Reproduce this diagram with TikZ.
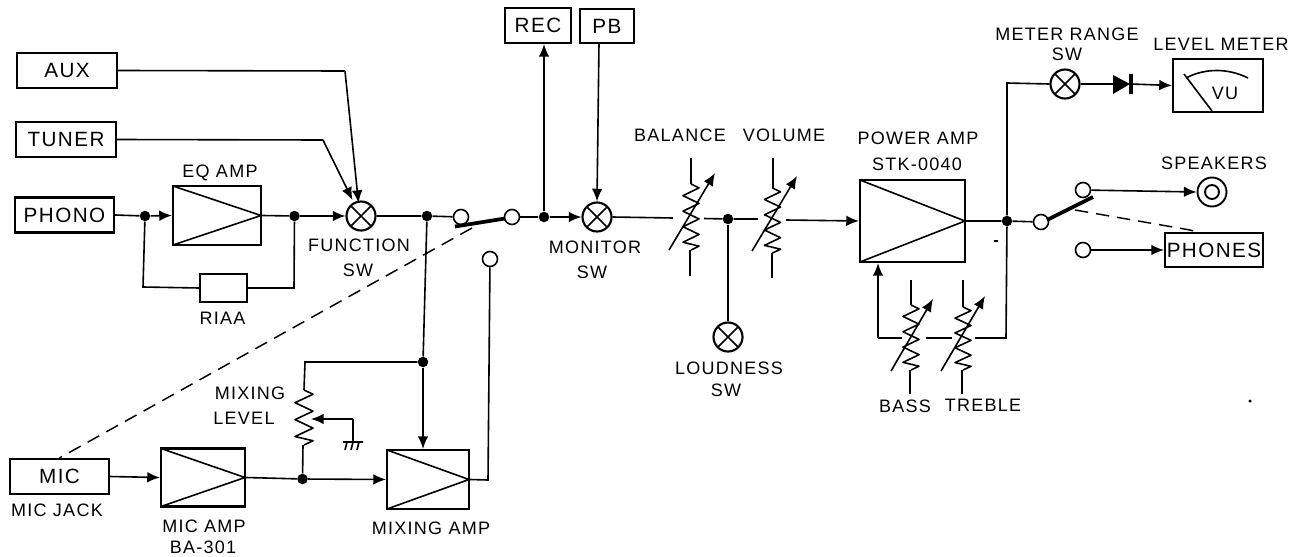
\documentclass[tikz,border=0pt]{standalone}
\usepackage{fontspec}
\setmainfont[LetterSpace=7]{Liberation Sans}
\usetikzlibrary{arrows.meta,calc}
\tikzset{
  wh/.style 2 args={minimum width=#1*0.75pt,minimum height=#2*0.75pt},
  blk/.style={draw,line width=1.6pt,inner sep=0pt,font=\fontsize{15.5pt}{16pt}\selectfont,text height=11.1pt,text depth=0pt},
  amp/.style={draw,line width=1.6pt,inner sep=0pt,
    path picture={\draw[line width=1.2pt] (path picture bounding box.north west)--(path picture bounding box.east)--(path picture bounding box.south west);}},
  lab/.style={inner sep=0pt,font=\fontsize{13.5pt}{14pt}\selectfont,text height=9.7pt,text depth=0pt},
  sumsw/.style={draw,circle,line width=1.6pt,inner sep=0pt,minimum size=29*0.75pt,fill=white,
    path picture={\draw[line width=1.2pt] (path picture bounding box.north west)--(path picture bounding box.south east) (path picture bounding box.north east)--(path picture bounding box.south west);}},
  term/.style={draw,circle,line width=1.2pt,inner sep=0pt,minimum size=15*0.75pt,fill=white},
  junc/.style={circle,fill=black,inner sep=0pt,minimum size=10.5*0.75pt},
  wire/.style={line width=1.2pt,line join=miter},
  conn/.style={wire,-{Latex[length=9.5pt,width=8pt]}},
  blade/.style={line width=2.8pt},
  link/.style={line width=1.1pt,dash pattern=on 10pt off 6pt},
}
% zigzag resistor: centre x, top y, bottom y, half width, number of left points
\newcommand{\zigres}[5]{%
  \pgfmathsetmacro{\zs}{(#3-#2)/(2*#5+0.5)}%
  \draw[wire,line join=round] (#1,#2)
    \foreach \zi in {1,...,#5} { -- (#1+#4,{#2+(2*\zi-1.5)*\zs}) -- (#1-#4,{#2+(2*\zi-0.5)*\zs}) }
    -- (#1+#4,{#3-0.5*\zs}) -- (#1,#3);}
\begin{document}
\begin{tikzpicture}[x=0.75pt,y=-0.75pt]
\useasboundingbox (0,0) rectangle (1307,557);
% source blocks
\node[blk,wh={100}{35}] (aux) at (67,70.5) {AUX};
\node[blk,wh={100}{35}] (tuner) at (66,139.5) {TUNER};
\node[blk,wh={99}{35}] (phono) at (64.5,215) {PHONO};
\node[blk,wh={99}{35}] (mic) at (59.5,476.5) {MIC};
\node[blk,wh={66}{35}] (rec) at (538,25.5) {REC};
\node[blk,wh={54}{34}] (pb) at (607,26) {PB};
\node[blk,wh={98}{34}] (phones) at (1214,250) {PHONES};
\node[draw,line width=1.3pt,wh={47}{28},inner sep=0pt] (riaa) at (223.5,288) {};
% amplifiers
\node[amp,wh={88}{59}] (eq) at (217,215.5) {};
\node[amp,wh={84}{58}] (micamp) at (203,477.5) {};
\node[amp,wh={82}{59}] (mixamp) at (428,479.5) {};
\node[amp,wh={105}{82}] (power) at (912.5,221) {};
\node[draw,line width=1.6pt,wh={90}{53},inner sep=0pt] (meter) at (1218,85.5) {};
% switches
\node[sumsw] (func) at (361,216) {};
\node[sumsw] (mon) at (597,217) {};
\node[sumsw] (loud) at (728,337) {};
\node[sumsw] (range) at (1065,84) {};
% terminals
\node[term] (t1) at (461,217) {};
\node[term] (t2) at (512,217) {};
\node[term] (t3) at (490,259) {};
\node[term] (t4) at (1041,222) {};
\node[term] (t5) at (1083,190) {};
\node[term] (t6) at (1083,250) {};
% junctions
\node[junc] (j1) at (145,216) {};
\node[junc] (j2) at (294.5,216) {};
\node[junc] (j3) at (427,216) {};
\node[junc] (j4) at (544,217) {};
\node[junc] (j5) at (728,219) {};
\node[junc] (j6) at (1007,221) {};
\node[junc] (j7) at (423,362) {};
\node[junc] (j8) at (302.5,479) {};
% speakers
\node[draw,circle,line width=1.4pt,minimum size=29*0.75pt,inner sep=0pt] (spk) at (1212,192) {};
\node[draw,circle,line width=1.4pt,minimum size=14*0.75pt,inner sep=0pt] (spki) at (1212,192) {};
% free ends
\coordinate (auxk) at (345,71);
\coordinate (tunk) at (323,140);
\coordinate (rl) at (143,287);
\coordinate (rr) at (294,288);
\coordinate (a1) at (358.5,203);
\coordinate (a2) at (352.5,200);
\coordinate (mixk) at (305,362);
\coordinate (mixt) at (304,390);
\coordinate (mixb) at (303,445);
\coordinate (wipe) at (311,419);
\coordinate (wipk) at (353,419);
\coordinate (gnd) at (353,442);
\coordinate (outk) at (488,480);
\coordinate (pbo) at (599,43);
\coordinate (sk) at (1007,83);
\coordinate (bk) at (1006,338);
\coordinate (pk) at (878,338);
% input wires
\draw[wire] (aux.east)--(auxk);
\draw[conn] (auxk)--(a1);
\draw[wire] (tuner.east)--(tunk);
\draw[conn] (tunk)--(a2);
\draw[wire] (phono.east)--(j1);
\draw[conn] (j1)--(eq.west);
\draw[wire] (j1)--(rl)--(riaa.west);
\draw[wire] (riaa.east)--(rr)--(j2);
\draw[wire] (eq.east)--(j2);
\draw[conn] (j2)--(func.west);
\draw[wire] (func.east)--(j3)--(t1);
\draw[wire] (j3)--(j7);
\draw[conn] (j7)--(mixamp.north -| j7);
\draw[wire] (j7)--(mixk)--(mixt);
\zigres{304}{390}{445}{9}{3}
\draw[wire] (mixb)--(j8);
\draw[conn] (wipk)--(wipe);
\draw[wire] (wipk)--(gnd);
\draw[wire] (343,442)--(363,442) (347,442)--(345,450) (353,442)--(351,450) (359,442)--(357,450);
\draw[conn] (mic.east)--(micamp.west);
\draw[wire] (micamp.east)--(j8);
\draw[conn] (j8)--(mixamp.west);
\draw[wire] (mixamp.east)--(outk)--(t3);
% function/mic selector
\draw[blade] (455,226.5)--(505,218.5);
\draw[link] (472,228)--(mic.north);
\draw[wire] (t2)--(j4);
\draw[conn] (j4)--(rec.south -| j4);
\draw[conn] (j4)--(mon.west);
\draw[conn] (pbo)--(mon.north);
% balance, volume
\draw[wire] (mon.east)--(673,218);
\draw[wire] (704,218.5)--(j5)--(758,219);
\draw[conn] (786,220)--(power.west);
\draw[wire] (j5)--(loud.north);
\draw[wire] (691,158)--(691,184) (690,250)--(690,276);
\zigres{691}{184}{250}{8}{4}
\draw[conn] (669,250)--(715,173);
\draw[wire] (773,158)--(773,188) (772,253)--(772,278);
\zigres{772.5}{188}{253}{8}{4}
\draw[conn] (752,251)--(797,176);
% output
\draw[wire] (power.east)--(j6)--(t4);
\draw[wire] (j6)--(sk)--(range.west);
\draw[wire] (range.east)--(1113,84);
\fill (1113,75)--(1130,84)--(1113,94)--cycle;
\draw[line width=2.8pt] (1131,74)--(1131,94);
\draw[conn] (1131,84)--(meter.west);
\draw[wire] (1186,78) .. controls (1205,68) and (1228,68) .. (1248,78);
\draw[wire] (1184,74)--(1212,111);
\draw[blade] (1047,220)--(1093,197);
\draw[conn] (t5)--(spk.west);
\draw[link] (1075,210)--(1190,230)--(1197,232);
\draw[conn] (t6)--(phones.west);
% tone controls
\draw[wire] (j6)--(bk)--(975,338);
\draw[wire] (952,338)--(926,338);
\draw[wire] (902,338)--(pk);
\draw[conn] (pk)--(power.south -| pk);
\draw[wire] (911,280)--(911,305) (910,370)--(910,394);
\zigres{911}{305}{370}{8}{4}
\draw[conn] (891,371)--(933,299);
\draw[wire] (963,280)--(963,307) (962,370)--(962,394);
\zigres{963}{307}{370}{8}{4}
\draw[conn] (941,371)--(985,296);
% labels
\node[lab] (l1) at (220,171) {EQ AMP};
\node[lab] (l2) at (222.5,318) {RIAA};
\node[lab] (l3) at (359,245) {FUNCTION};
\node[lab] (l4) at (358,270) {SW};
\node[lab] (l5) at (57,510) {MIC JACK};
\node[lab] (l6) at (204,526) {MIC AMP};
\node[lab] (l7) at (203,547) {BA-301};
\node[lab] (l8) at (431,528) {MIXING AMP};
\node[lab] (l9) at (250,393) {MIXING};
\node[lab] (l10) at (244,418) {LEVEL};
\node[lab] (l11) at (595,247) {MONITOR};
\node[lab] (l12) at (592,272) {SW};
\node[lab] (l13) at (680,135) {BALANCE};
\node[lab] (l14) at (784,135) {VOLUME};
\node[lab] (l15) at (729,368) {LOUDNESS};
\node[lab] (l16) at (726,390) {SW};
\node[lab] (l17) at (918,138) {POWER AMP};
\node[lab] (l18) at (917,164) {STK-0040};
\node[lab] (l19) at (1067,34) {METER RANGE};
\node[lab] (l20) at (1067,54) {SW};
\node[lab] (l21) at (1221,44) {LEVEL METER};
\node[lab] (l22) at (1214,163) {SPEAKERS};
\node[lab] (l23) at (905,406) {BASS};
\node[lab] (l24) at (983,405) {TREBLE};
\node[lab] (l25) at (1225,93) {VU};
% scan specks
\fill (1250,401) circle (1.3pt);
\draw[line width=0.8pt] (994,241)--(998,241);
\end{tikzpicture}
\end{document}
